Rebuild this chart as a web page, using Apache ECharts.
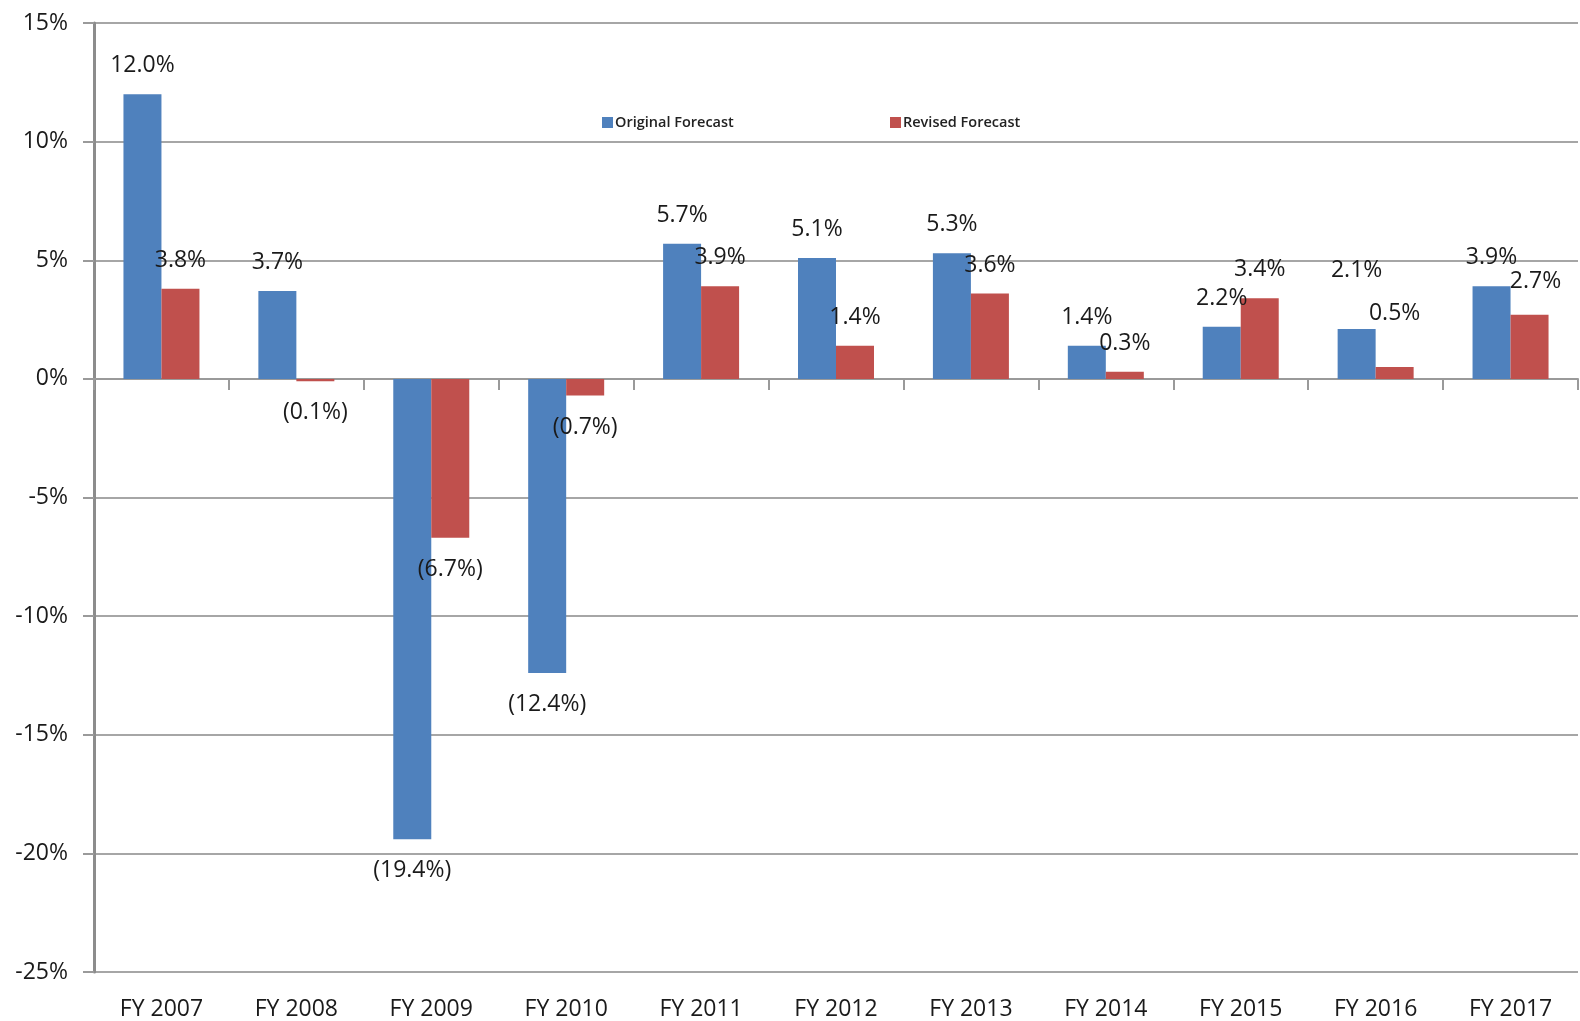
<!DOCTYPE html>
<html><head><meta charset="utf-8">
<script src="https://cdn.jsdelivr.net/npm/echarts@6/dist/echarts.min.js"></script>
<style>html,body{margin:0;padding:0;background:#fff}#c{width:1580px;height:1021px}</style>
</head><body><div id="c"></div>
<script>
const categories = ['FY 2007','FY 2008','FY 2009','FY 2010','FY 2011','FY 2012','FY 2013','FY 2014','FY 2015','FY 2016','FY 2017'];
const originalForecast = [12.0, 3.7, -19.4, -12.4, 5.7, 5.1, 5.3, 1.4, 2.2, 2.1, 3.9];
const revisedForecast = [3.8, -0.1, -6.7, -0.7, 3.9, 1.4, 3.6, 0.3, 3.4, 0.5, 2.7];
const yTicks = [-25, -20, -15, -10, -5, 0, 5, 10, 15];

// label placement tweaks (as in the reference): index -> [extra distance, x shift]
const origLabelTweak = {9: [30, 0]};
const revLabelTweak = {9: [25, 0], 10: [5, 6]};

const FONT = '"Open Sans", "Liberation Sans", sans-serif';
const fmt = v => v < 0 ? '(' + (-v).toFixed(1) + '%)' : v.toFixed(1) + '%';

function build(values, tweaks) {
  return values.map((v, i) => {
    const t = tweaks[i] || [0, 0];
    return {
      value: v,
      label: {
        position: v < 0 ? 'bottom' : 'top',
        distance: (v < 0 ? 20 : 17) + t[0],
        offset: [t[1], 0]
      }
    };
  });
}

const chart = echarts.init(document.getElementById('c'));
const legendText = {fontFamily: FONT, fontSize: 14.5, fontWeight: 600, color: '#222', padding: [0, 0, 0, -3]};
chart.setOption({
  animation: false,
  backgroundColor: '#fff',
  grid: {left: 94, right: 2, top: 23, bottom: 48, containLabel: false},
  legend: [
    {data: ['Original Forecast'], icon: 'rect', left: 597, top: 110, itemWidth: 11, itemHeight: 11, itemGap: 4, textStyle: legendText},
    {data: ['Revised Forecast'], icon: 'rect', left: 885, top: 110, itemWidth: 11, itemHeight: 11, itemGap: 4, textStyle: legendText}
  ],
  xAxis: [
    {type: 'category', data: categories, position: 'bottom',
     axisLine: {onZero: true, lineStyle: {color: '#9a9a9a', width: 2}},
     axisTick: {show: true, length: 11, inside: false, alignWithLabel: false, lineStyle: {color: '#9a9a9a', width: 2}},
     axisLabel: {show: false}},
    {type: 'category', data: categories, position: 'bottom',
     axisLine: {show: false}, axisTick: {show: false},
     axisLabel: {fontFamily: FONT, fontSize: 23, color: '#1a1a1a', margin: 26}}
  ],
  yAxis: {
    type: 'value', min: yTicks[0], max: yTicks[yTicks.length - 1], interval: 5,
    axisLine: {show: true, lineStyle: {color: '#8c8c8c', width: 3}},
    axisTick: {show: true, length: 11, lineStyle: {color: '#9a9a9a', width: 2}},
    axisLabel: {fontFamily: FONT, fontSize: 23, color: '#1a1a1a', margin: 26, formatter: v => v + '%'},
    splitLine: {show: true, lineStyle: {color: '#a6a6a6', width: 2}}
  },
  series: [
    {name: 'Original Forecast', type: 'bar', xAxisIndex: 0, data: build(originalForecast, origLabelTweak),
     barWidth: 38, barGap: '0%', itemStyle: {color: '#4F81BD'},
     label: {show: true, fontFamily: FONT, fontSize: 23, color: '#1a1a1a', formatter: p => fmt(p.value)}},
    {name: 'Revised Forecast', type: 'bar', xAxisIndex: 0, data: build(revisedForecast, revLabelTweak),
     barWidth: 38, barGap: '0%', itemStyle: {color: '#C0504D'},
     label: {show: true, fontFamily: FONT, fontSize: 23, color: '#1a1a1a', formatter: p => fmt(p.value)}}
  ]
});
</script></body></html>
